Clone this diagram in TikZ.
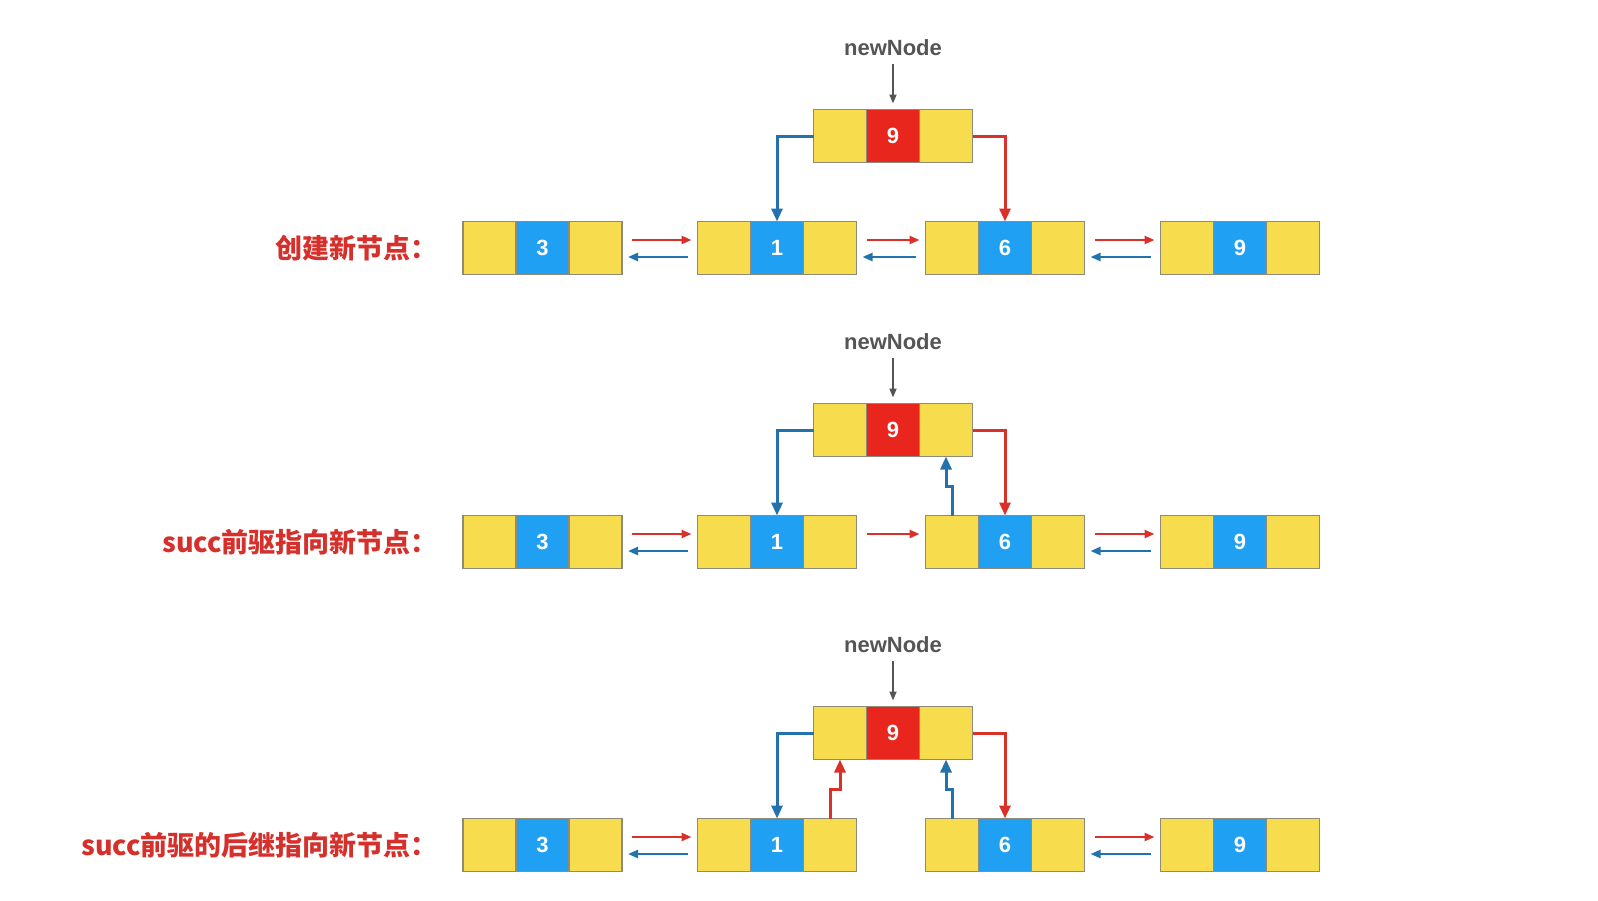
\documentclass[tikz,border=0pt]{standalone}
\usepackage{fontspec}
\setmainfont{Liberation Sans}
\newfontfamily\cjkfont{Noto Sans CJK SC}
\usepackage{xcolor}
\usetikzlibrary{positioning, arrows.meta, calc}
\definecolor{cellyellow}{HTML}{F7DC4D}
\definecolor{cellblue}{HTML}{1FA0F2}
\definecolor{cellred}{HTML}{E8261E}
\definecolor{cellborder}{HTML}{8E8B78}
\definecolor{nextred}{HTML}{D9302A}
\definecolor{prevblue}{HTML}{2272AE}
\definecolor{ptrgray}{HTML}{555555}
\definecolor{titlered}{HTML}{D5302B}
\tikzset{
  cell/.style={
    draw=cellborder,
    line width=1.8pt,
    fill=cellyellow,
    minimum size=53pt,
    inner sep=0pt,
    outer sep=0pt,
    text=white,
    font=\fontsize{22}{22}\selectfont\bfseries
  },
  datacell/.style={cell, fill=cellblue},
  newcell/.style={cell, fill=cellred},
  next link/.style={
    -{Triangle[length=10pt,width=8pt]},
    line width=2.4pt,
    color=nextred,
    shorten <=10pt,
    shorten >=6pt
  },
  prev link/.style={next link, color=prevblue},
  insert next/.style={
    -{Triangle[length=13pt,width=11pt]},
    line width=3pt,
    color=nextred
  },
  insert prev/.style={insert next, color=prevblue},
  ptr/.style={font=\fontsize{22}{22}\selectfont\bfseries, text=ptrgray},
  ptr arrow/.style={
    -{Triangle[length=9pt,width=7pt]},
    line width=1.8pt,
    color=ptrgray,
    shorten <=4pt,
    shorten >=6pt
  },
  rowtitle/.style={
    anchor=east,
    inner sep=0pt,
    font=\cjkfont\fontsize{27}{27}\selectfont\bfseries,
    text=titlered
  }
}
% one list node: prev | data | next
\newcommand{\listnode}[4]{%
  \node[#4] (#1) at (#2) {#3};
  \node[cell, left=0pt of #1] (#1-prev) {};
  \node[cell, right=0pt of #1] (#1-next) {};
}

\begin{document}
\begin{tikzpicture}[x=1pt, y=-1pt]
  \useasboundingbox[fill=white] (0,0) rectangle (1598,900);

  % Lists and newNode, one row per step
  \foreach \row/\y in {1/248, 2/542, 3/845} {
    \listnode{r\row n3}{542.5,\y}{3}{datacell}
    \listnode{r\row n1}{777,\y}{1}{datacell}
    \listnode{r\row n6}{1005,\y}{6}{datacell}
    \listnode{r\row n9}{1240,\y}{9}{datacell}
    \listnode{r\row new}{893,\y-112}{9}{newcell}
    \node[ptr] (r\row ptr) at (893,\y-200) {newNode};
    \draw[ptr arrow] (r\row ptr) -- (r\row new);
  }

  % Row titles
  \node[rowtitle] (r1title) at (438,248) {创建新节点：};
  \node[rowtitle] (r2title) at (438,542) {succ前驱指向新节点：};
  \node[rowtitle] (r3title) at (438,845) {succ前驱的后继指向新节点：};

  % Links between list nodes
  \foreach \a/\b in {r1n3/r1n1, r1n1/r1n6, r1n6/r1n9, r2n3/r2n1, r2n6/r2n9, r3n3/r3n1, r3n6/r3n9} {
    \draw[next link] ([yshift=8pt]\a-next.east) -- ([yshift=8pt]\b-prev.west);
    \draw[prev link] ([yshift=-9pt]\b-prev.west) -- ([yshift=-9pt]\a-next.east);
  }
  \draw[next link] ([yshift=8pt]r2n1-next.east) -- ([yshift=8pt]r2n6-prev.west);

  % Step 1: create newNode
  \draw[insert prev] (r1new-prev.west) -| (r1n1.north);
  \draw[insert next] (r1new-next.east) -| (r1n6.north);

  % Step 2: succ.prev = newNode
  \draw[insert prev] (r2new-prev.west) -| (r2n1.north);
  \draw[insert next] (r2new-next.east) -| (r2n6.north);
  \draw[insert prev] (r2n6-prev.north) -- ++(0,-29) -| (r2new-next.south);

  % Step 3: pred.next = newNode
  \draw[insert prev] (r3new-prev.west) -| (r3n1.north);
  \draw[insert next] (r3new-next.east) -| (r3n6.north);
  \draw[insert next] (r3n1-next.north) -- ++(0,-29) -| (r3new-prev.south);
  \draw[insert prev] (r3n6-prev.north) -- ++(0,-29) -| (r3new-next.south);
\end{tikzpicture}
\end{document}
